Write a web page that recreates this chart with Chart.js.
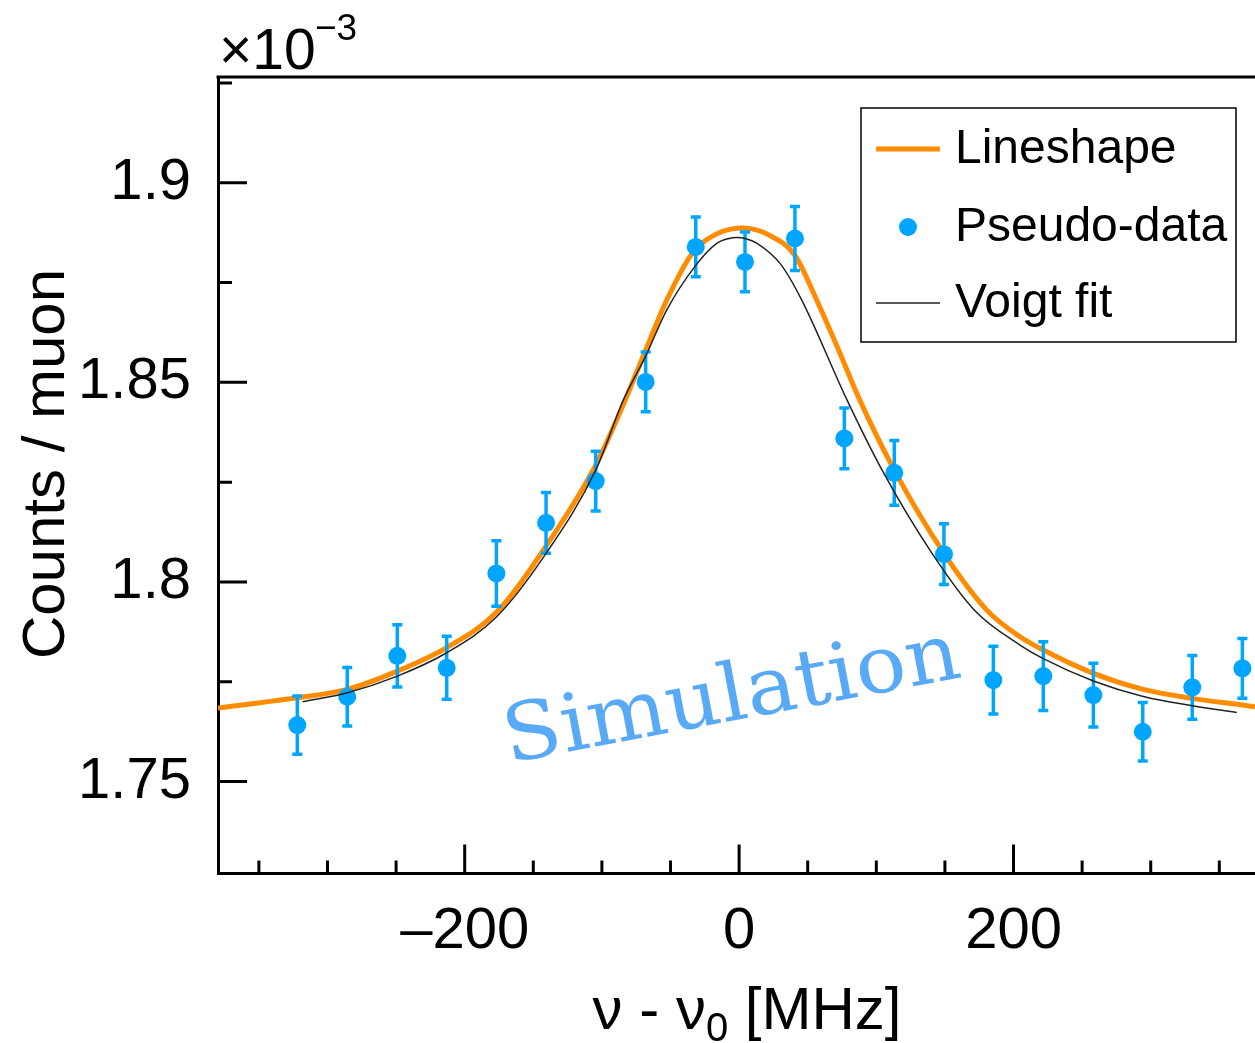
<!DOCTYPE html>
<html lang="en">
<head>
    <meta charset="UTF-8">
    <title>Lineshape with pseudo-data</title>
    <script src="https://cdn.jsdelivr.net/npm/chart.js"></script>
    <style>
        body { margin: 0; background: #fff; }
        canvas { display: block; }
    </style>
</head>
<body>

    <canvas id="lineChart" width="1255" height="1043"></canvas>

    <script type='text/javascript'>
    // pseudo-data (x in MHz, y in units of 1e-3 counts / muon)
    const dataX = [-322, -285.6, -249.1, -213.1, -176.9, -140.7, -104.5, -68.1, -31.6, 4.3,
                   40.7, 76.7, 113.1, 149.3, 185.3, 221.7, 258.2, 294.2, 330.3, 366.8];
    const dataY = [1.76415, 1.77124, 1.7815, 1.7785, 1.80214, 1.81481, 1.82526, 1.85012, 1.88393, 1.88018,
                   1.88604, 1.83595, 1.82733, 1.80697, 1.77542, 1.77642, 1.77166, 1.76247, 1.77359, 1.77835];
    const dataErr = [0.0073, 0.0073, 0.0078, 0.0079, 0.0082, 0.0076, 0.0075, 0.0075, 0.0075, 0.0075,
                     0.0080, 0.0076, 0.0081, 0.0076, 0.0085, 0.0086, 0.0080, 0.0073, 0.0080, 0.0075];

    // lineshape curve
    const lineshapeX = [-379.8, -349.2, -322.0, -285.6, -249.1, -213.1, -176.7, -140.7, -104.5, -86.8,
                        -68.1, -52.8, -33.6, -16.3, -6, 2, 10, 20.1, 40.7, 56.6,
                        73.5, 86.9, 113.1, 149.3, 180.5, 204.7, 221.7, 258.2, 294.6, 330.3,
                        366.8, 376];
    const lineshapeY = [1.76841, 1.76975, 1.77099, 1.77309, 1.77767, 1.78356, 1.79245, 1.80898, 1.82926, 1.84250,
                        1.85806, 1.87058, 1.88260, 1.88720, 1.88840, 1.88870, 1.88840, 1.88720, 1.88180, 1.87058,
                        1.85731, 1.84637, 1.82801, 1.80715, 1.79295, 1.78626, 1.78293, 1.77710, 1.77309, 1.77084,
                        1.76916, 1.76873];

    // Voigt fit curve
    const voigtX = [-318.1, -285.6, -249.1, -213.1, -176.7, -140.7, -104.5, -84.4, -68.1, -52.8,
                    -31.6, -16.3, -8, -1.5, 5, 12.8, 29.8, 45.1, 78.7, 104.2,
                    140.5, 171.9, 204.7, 221.7, 258.2, 294.6, 330.3, 362.7];
    const voigtY = [1.76998, 1.77224, 1.77642, 1.78226, 1.79127, 1.80715, 1.82801, 1.84554, 1.85656, 1.86808,
                    1.87930, 1.88480, 1.88600, 1.88629, 1.88600, 1.88490, 1.87980, 1.87100, 1.84554, 1.82801,
                    1.80723, 1.79280, 1.78420, 1.78080, 1.77520, 1.77130, 1.76900, 1.76730];

    const xTicks = [-350, -300, -250, -200, -150, -100, -50, 0, 50, 100, 150, 200, 250, 300, 350];
    const yTicks = [1.75, 1.775, 1.8, 1.825, 1.85, 1.875, 1.9, 1.925];

    const orange = '#ff8c00';
    const blue = '#00a5ff';
    const font = '"Liberation Sans", Arial, sans-serif';

    function isMajorX(v) { return v % 200 === 0; }
    function isMajorY(v) { return Math.round(v * 1000) % 50 === 0; }

    // error bars, inward ticks, top frame, legend and extra texts
    const decorations = {
        id: 'decorations',
        beforeDatasetDraw(chart, args) {
            if (args.index !== 1) return;
            const ctx = chart.ctx, xs = chart.scales.x, ys = chart.scales.y;
            ctx.save();
            ctx.strokeStyle = blue;
            ctx.lineWidth = 3.5;
            dataX.forEach((x, i) => {
                const px = xs.getPixelForValue(x);
                const top = ys.getPixelForValue(dataY[i] + dataErr[i]);
                const bot = ys.getPixelForValue(dataY[i] - dataErr[i]);
                ctx.beginPath();
                ctx.moveTo(px, top); ctx.lineTo(px, bot);
                ctx.moveTo(px - 5, top); ctx.lineTo(px + 5, top);
                ctx.moveTo(px - 5, bot); ctx.lineTo(px + 5, bot);
                ctx.stroke();
            });
            ctx.restore();
        },
        afterDraw(chart) {
            const ctx = chart.ctx, xs = chart.scales.x, ys = chart.scales.y;
            const area = chart.chartArea;
            ctx.save();
            ctx.strokeStyle = '#000';
            ctx.lineWidth = 3;
            ctx.beginPath();
            yTicks.forEach(v => {
                const py = ys.getPixelForValue(v);
                ctx.moveTo(area.left, py);
                ctx.lineTo(area.left + (isMajorY(v) ? 29 : 14), py);
            });
            xTicks.forEach(v => {
                const px = xs.getPixelForValue(v);
                ctx.moveTo(px, area.bottom);
                ctx.lineTo(px, area.bottom - (isMajorX(v) ? 29 : 13));
            });
            // top frame
            ctx.moveTo(area.left - 1.5, area.top);
            ctx.lineTo(area.right, area.top);
            ctx.stroke();

            // legend box
            ctx.lineWidth = 1.5;
            ctx.strokeRect(861, 108, 375, 234);
            ctx.lineWidth = 5;
            ctx.strokeStyle = orange;
            ctx.beginPath(); ctx.moveTo(876, 149); ctx.lineTo(940, 149); ctx.stroke();
            ctx.fillStyle = blue;
            ctx.beginPath(); ctx.arc(908, 227, 9, 0, Math.PI * 2); ctx.fill();
            ctx.lineWidth = 1.5;
            ctx.strokeStyle = '#222';
            ctx.beginPath(); ctx.moveTo(876, 303); ctx.lineTo(940, 303); ctx.stroke();
            ctx.fillStyle = '#000';
            ctx.font = '48px ' + font;
            ctx.textBaseline = 'middle';
            ctx.textAlign = 'left';
            ctx.fillText('Lineshape', 955, 150);
            ctx.fillText('Pseudo-data', 955, 228);
            ctx.fillText('Voigt fit', 955, 304);

            // exponent label
            ctx.textBaseline = 'alphabetic';
            ctx.font = '57px ' + font;
            ctx.fillText('\u00d710', 219, 69);
            ctx.font = '37px ' + font;
            ctx.fillText('\u22123', 315, 40);

            // y title
            ctx.save();
            ctx.translate(47, 464);
            ctx.rotate(-Math.PI / 2);
            ctx.textAlign = 'center';
            ctx.textBaseline = 'middle';
            ctx.font = '60px ' + font;
            ctx.fillText('Counts / muon', 0, 0);
            ctx.restore();

            // x title with subscript
            const a = '\u03bd - \u03bd', b = '0', c = ' [MHz]';
            ctx.font = '60px ' + font;
            const wa = ctx.measureText(a).width, wc = ctx.measureText(c).width;
            ctx.font = '40px ' + font;
            const wb = ctx.measureText(b).width;
            const x0 = 747 - (wa + wb + wc) / 2;
            const base = 1029;
            ctx.font = '60px ' + font;
            ctx.fillText(a, x0, base);
            ctx.font = '40px ' + font;
            ctx.fillText(b, x0 + wa, base + 12);
            ctx.font = '60px ' + font;
            ctx.fillText(c, x0 + wa + wb, base);

            // watermark
            ctx.save();
            ctx.translate(736, 720);
            ctx.rotate(-10.7 * Math.PI / 180);
            ctx.font = '80px "DejaVu Serif", serif';
            const sw = ctx.measureText('Simulation').width;
            ctx.scale(463 / sw, 1);
            ctx.textAlign = 'center';
            ctx.fillStyle = '#58a9f6';
            ctx.fillText('Simulation', 0, 0);
            ctx.restore();
            ctx.restore();
        }
    };

    const ctx = document.getElementById('lineChart').getContext('2d');

    new Chart(ctx, {
        type: 'scatter',
        data: {
            datasets: [{
                label: 'Lineshape',
                data: lineshapeX.map((x, i) => ({ x: x, y: lineshapeY[i] })),
                showLine: true,
                borderColor: orange,
                borderWidth: 5,
                pointRadius: 0,
                cubicInterpolationMode: 'monotone',
                order: 3
            }, {
                label: 'Pseudo-data',
                data: dataX.map((x, i) => ({ x: x, y: dataY[i] })),
                backgroundColor: blue,
                borderWidth: 0,
                pointRadius: 9,
                order: 2
            }, {
                label: 'Voigt fit',
                data: voigtX.map((x, i) => ({ x: x, y: voigtY[i] })),
                showLine: true,
                borderColor: '#222',
                borderWidth: 1.5,
                pointRadius: 0,
                cubicInterpolationMode: 'monotone',
                order: 1
            }]
        },
        options: {
            responsive: false,
            animation: false,
            layout: { autoPadding: false, padding: { top: 77, right: 0, left: 0, bottom: 0 } },
            plugins: { legend: { display: false }, tooltip: { enabled: false } },
            scales: {
                x: {
                    type: 'linear',
                    min: -379.8,
                    max: 376,
                    grid: { display: false, drawTicks: false },
                    border: { display: true, color: '#000', width: 3 },
                    afterBuildTicks: s => { s.ticks = xTicks.map(v => ({ value: v })); },
                    afterFit: s => { s.height = 169.5; s.paddingLeft = 0; s.paddingRight = 0; },
                    ticks: {
                        padding: 24,
                        maxRotation: 0,
                        autoSkip: false,
                        color: '#000',
                        font: { family: font, size: 58 },
                        callback: v => isMajorX(v) ? (v < 0 ? '\u2013' + Math.abs(v) : String(v)) : ''
                    }
                },
                y: {
                    min: 1.72696,
                    max: 1.9265,
                    grid: { display: false, drawTicks: false },
                    border: { display: true, color: '#000', width: 3 },
                    afterBuildTicks: s => { s.ticks = yTicks.map(v => ({ value: v })); },
                    afterFit: s => { s.width = 218; s.paddingTop = 0; s.paddingBottom = 0; },
                    ticks: {
                        padding: 27,
                        autoSkip: false,
                        color: '#000',
                        font: { family: font, size: 58 },
                        callback: v => isMajorY(v) ? String(Math.round(v * 1000) / 1000) : ''
                    }
                }
            }
        },
        plugins: [decorations]
    });
    </script>

</body></html>
